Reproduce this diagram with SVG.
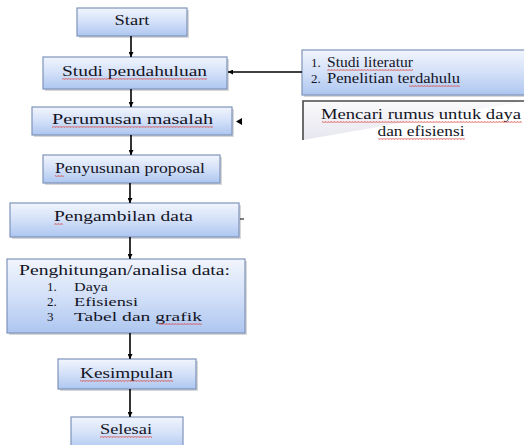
<svg xmlns="http://www.w3.org/2000/svg" width="524" height="445" viewBox="0 0 524 445">
<defs>
<linearGradient id="blue" x1="0" y1="0" x2="0" y2="1">
<stop offset="0" stop-color="#f1f5fd"/>
<stop offset="0.5" stop-color="#d3e0f8"/>
<stop offset="1" stop-color="#adc6f0"/>
</linearGradient>
<linearGradient id="gray" x1="0" y1="0" x2="0" y2="1">
<stop offset="0" stop-color="#fafafc"/>
<stop offset="1" stop-color="#e6e6ee"/>
</linearGradient>
<pattern id="wavy" width="3" height="2" patternUnits="userSpaceOnUse">
<path d="M0,1.6 L0.75,0.4 L1.5,1.6 L2.25,0.4 L3,1.6" stroke="#d9413c" stroke-width="0.6" fill="none"/>
</pattern>
<marker id="ah" viewBox="0 0 10 10" refX="10" refY="5" markerWidth="5" markerHeight="5" orient="auto" markerUnits="userSpaceOnUse">
<path d="M0,0 L10,5 L0,10 z" fill="#000"/>
</marker>
</defs>
<style>
.box{fill:url(#blue);stroke:#7e93bb;stroke-width:1.2}
.sh{fill:#b8b8b8;opacity:0.55}
.t{font-family:"Liberation Serif","DejaVu Serif",serif;font-size:15px;fill:#141424}
.s{font-size:13px}
.h{font-size:14px}
.c{text-anchor:middle}
.con{stroke:#000;stroke-width:1.6;fill:none}
.sq{fill:url(#wavy)}
</style>
<rect width="524" height="445" fill="#fff"/>

<g id="start">
<rect class="sh" x="79" y="10" width="110" height="28"/>
<rect class="box" x="77" y="8" width="110" height="28"/>
<text class="t c" x="132" y="25" textLength="35" lengthAdjust="spacingAndGlyphs">Start</text>
</g>

<g id="studi">
<rect class="sh" x="45" y="59" width="184" height="32"/>
<rect class="box" x="43" y="57" width="184" height="32"/>
<text class="t" x="62" y="76" textLength="145" lengthAdjust="spacingAndGlyphs">Studi pendahuluan</text>
<rect class="sq" x="62" y="78" width="145" height="2"/>
</g>

<g id="perumusan">
<rect class="sh" x="34" y="109" width="200" height="28"/>
<rect class="box" x="32" y="107" width="200" height="28"/>
<text class="t" x="52" y="124" textLength="161" lengthAdjust="spacingAndGlyphs">Perumusan  masalah</text>
<rect class="sq" x="52" y="126" width="161" height="2"/>
</g>

<g id="penyusunan">
<rect class="sh" x="45" y="157" width="177" height="28"/>
<rect class="box" x="43" y="155" width="177" height="28"/>
<text class="t" x="55" y="173" textLength="150" lengthAdjust="spacingAndGlyphs">Penyusunan proposal</text>
<rect class="sq" x="55" y="175" width="9" height="2"/>
</g>

<g id="pengambilan">
<rect class="sh" x="12" y="205" width="229" height="34"/>
<rect class="box" x="10" y="203" width="229" height="34"/>
<text class="t" x="54" y="221" textLength="139" lengthAdjust="spacingAndGlyphs">Pengambilan data</text>
<rect class="sq" x="54" y="223" width="9" height="2"/>
</g>

<g id="penghitungan">
<rect class="sh" x="9" y="261" width="238" height="74"/>
<rect class="box" x="7" y="259" width="238" height="74"/>
<text class="t h" x="19" y="275" textLength="211" lengthAdjust="spacingAndGlyphs">Penghitungan/analisa data:</text>
<text class="t s" x="47" y="291">1.</text>
<text class="t s" x="74" y="291" textLength="34" lengthAdjust="spacingAndGlyphs">Daya</text>
<text class="t s" x="47" y="306">2.</text>
<text class="t s" x="74" y="306" textLength="64" lengthAdjust="spacingAndGlyphs">Efisiensi</text>
<text class="t s" x="47" y="321">3</text>
<text class="t s" x="74" y="321" textLength="128" lengthAdjust="spacingAndGlyphs">Tabel dan grafik</text>
<rect class="sq" x="159" y="323" width="43" height="2"/>
</g>

<g id="kesimpulan">
<rect class="sh" x="60" y="361" width="138" height="30"/>
<rect class="box" x="58" y="359" width="138" height="30"/>
<text class="t" x="80" y="378" textLength="93" lengthAdjust="spacingAndGlyphs">Kesimpulan</text>
<rect class="sq" x="80" y="380" width="93" height="2"/>
</g>

<g id="selesai">
<rect class="box" x="71" y="417" width="112" height="34"/>
<text class="t" x="100" y="434" textLength="52" lengthAdjust="spacingAndGlyphs">Selesai</text>
<rect class="sq" x="100" y="436" width="52" height="2"/>
</g>

<g id="literatur">
<rect class="sh" x="304" y="52" width="222" height="45"/>
<rect class="box" x="302" y="50" width="224" height="45"/>
<text class="t s" x="311" y="67">1.</text>
<text class="t" x="327" y="67" textLength="86" lengthAdjust="spacingAndGlyphs">Studi literatur</text>
<rect class="sq" x="327" y="69" width="86" height="2"/>
<text class="t s" x="311" y="83">2.</text>
<text class="t" x="327" y="83" textLength="133" lengthAdjust="spacingAndGlyphs">Penelitian terdahulu</text>
<rect class="sq" x="409" y="85" width="51" height="2"/>
</g>

<g id="mencari">
<path d="M303,140 L303,101 L526,101" fill="url(#gray)" stroke="#4a4a4a" stroke-width="1.6"/>
<text class="t c" x="421" y="119" textLength="200" lengthAdjust="spacingAndGlyphs">Mencari rumus untuk daya</text>
<rect class="sq" x="322" y="121" width="200" height="2"/>
<text class="t c" x="421" y="136" textLength="87" lengthAdjust="spacingAndGlyphs">dan efisiensi</text>
<rect class="sq" x="378" y="138" width="87" height="2"/>
</g>

<g id="connectors">
<line class="con" x1="131" y1="36" x2="131" y2="57" marker-end="url(#ah)"/>
<line class="con" x1="131" y1="89" x2="131" y2="107" marker-end="url(#ah)"/>
<line class="con" x1="131" y1="135" x2="131" y2="155" marker-end="url(#ah)"/>
<line class="con" x1="130" y1="183" x2="130" y2="203" marker-end="url(#ah)"/>
<line class="con" x1="130" y1="237" x2="130" y2="259" marker-end="url(#ah)"/>
<line class="con" x1="130" y1="333" x2="130" y2="359" marker-end="url(#ah)"/>
<line class="con" x1="130" y1="389" x2="130" y2="417" marker-end="url(#ah)"/>
<line class="con" x1="302" y1="72" x2="228" y2="72" stroke-width="1.2" marker-end="url(#ah)"/>
<path d="M242,118 L236,121.5 L242,125 z" fill="#000"/>
<line x1="240" y1="219" x2="244" y2="219" stroke="#000" stroke-width="1"/>
</g>
</svg>
